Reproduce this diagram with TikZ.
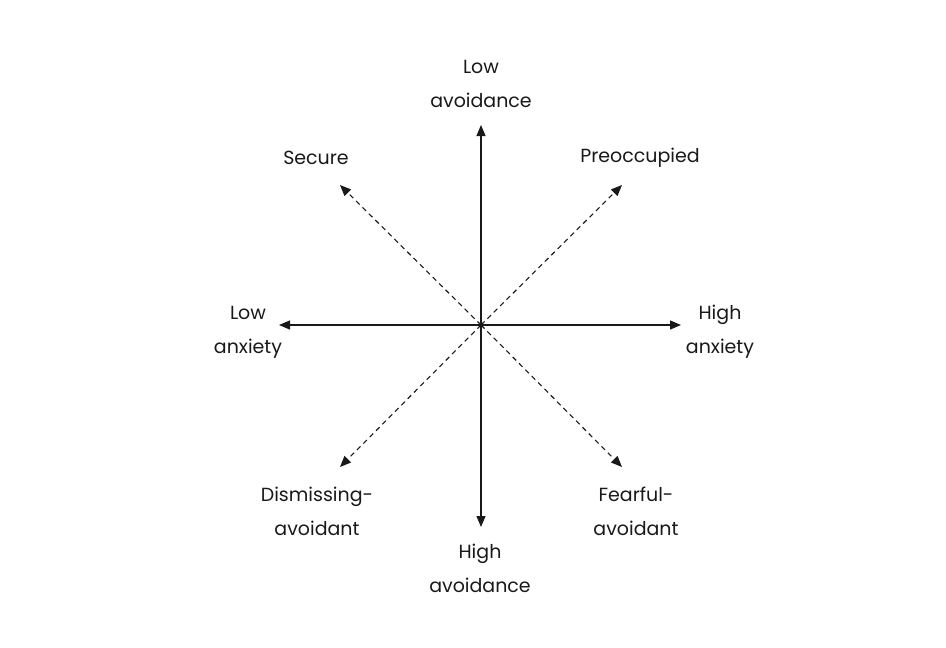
\documentclass[tikz,border=0pt]{standalone}
\usepackage{fontspec}
\setmainfont{Poppins}
\usetikzlibrary{arrows.meta}
\begin{document}
\begin{tikzpicture}[x=1pt,y=-1pt,
  ax/.style={line width=1.3pt,{Triangle[length=11pt,width=9pt]}-{Triangle[length=11pt,width=9pt]},color=black!90},
  dg/.style={line width=1.1pt,dash pattern=on 5pt off 4pt,-{Triangle[length=11pt,width=9pt]},color=black!90},
  lb/.style={align=center,font=\fontsize{19}{34}\selectfont,inner sep=0pt,color=black!90}]
\useasboundingbox (0,0) rectangle (946,648);
\coordinate (c) at (481,325);
\coordinate (t) at (481,125);
\coordinate (b) at (481,527);
\coordinate (l) at (279,325);
\coordinate (r) at (681,325);
\coordinate (ul) at (340,185);
\coordinate (ur) at (622,185);
\coordinate (dl) at (340,467);
\coordinate (dr) at (622,467);
\draw[ax] (t) -- (b);
\draw[ax] (l) -- (r);
\draw[dg] (c) -- (ul);
\draw[dg] (c) -- (ur);
\draw[dg] (c) -- (dl);
\draw[dg] (c) -- (dr);
\node[lb] (n1) at (481,84) {Low\\avoidance};
\node[lb] (n2) at (480,568) {High\\avoidance};
\node[lb] (n3) at (248,332) {Low\\anxiety};
\node[lb] (n4) at (720,332) {High\\anxiety};
\node[lb] (n5) at (316,158) {Secure};
\node[lb] (n6) at (640,158) {Preoccupied};
\node[lb] (n7) at (317,511) {Dismissing-\\avoidant};
\node[lb] (n8) at (636,511) {Fearful-\\avoidant};
\end{tikzpicture}
\end{document}
